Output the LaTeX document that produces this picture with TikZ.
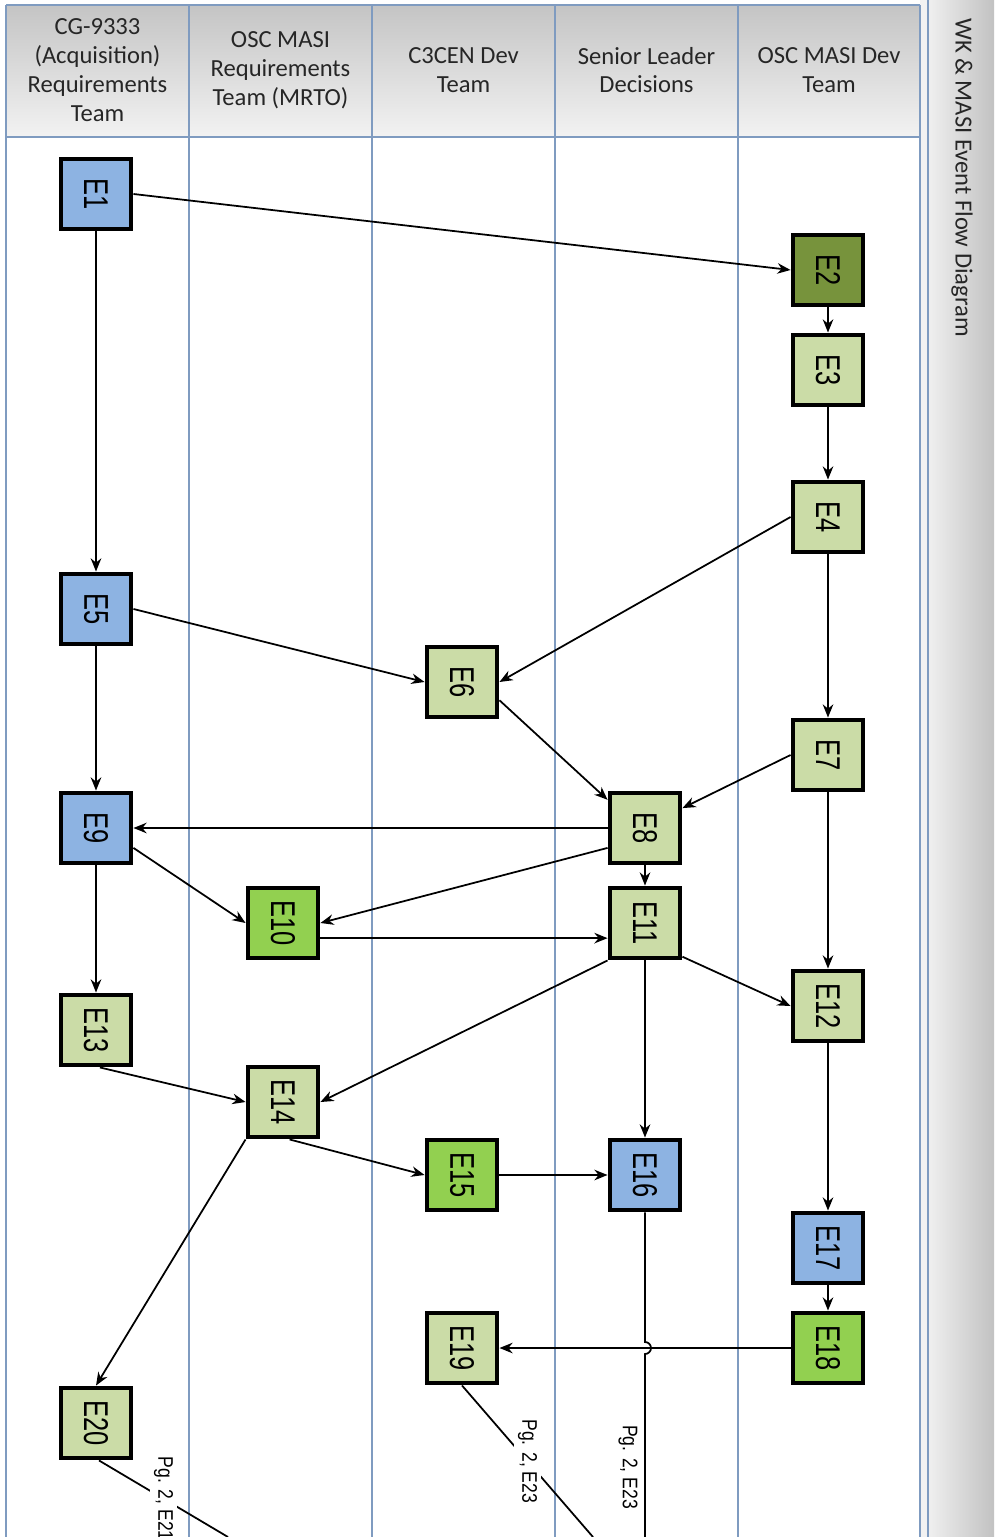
\documentclass[tikz,border=0pt]{standalone}
\usepackage{fontspec}
\setmainfont{Liberation Sans}
\newfontfamily\hdrfont{Carlito}
\usetikzlibrary{arrows.meta}
\usetikzlibrary{shadows}
\definecolor{laneBlue}{RGB}{127,155,192}
\definecolor{evBlue}{RGB}{141,179,226}
\definecolor{evPale}{RGB}{203,220,167}
\definecolor{evDark}{RGB}{119,147,60}
\definecolor{evLime}{RGB}{146,208,80}
\tikzset{evBox/.style={draw, line width=2.8pt, minimum width=1.4cm, minimum height=1.4cm, inner sep=0pt, fill=evPale, font=\fontsize{14.5}{16}\selectfont, drop shadow={shadow xshift=-1.4pt, shadow yshift=-1.4pt, opacity=0.45}}}
\tikzset{evBoxBlue/.style={evBox, fill=evBlue}}
\tikzset{evBoxLime/.style={evBox, fill=evLime}}
\tikzset{evBoxDark/.style={evBox, fill=evDark}}
\tikzset{flow/.style={-{Stealth[length=7.5pt, width=6pt]}, line width=1pt}}
\tikzset{lane/.style={draw=laneBlue, line width=1.1pt}}
\tikzset{hdr/.style={align=center, text=black!85, font=\hdrfont\fontsize{14}{16.4}\selectfont}}
\tikzset{pgRef/.style={inner sep=2pt, rotate=-90, font=\fontsize{10}{12}\selectfont}}
\newcommand{\evName}[1]{\rotatebox{-90}{\scalebox{1}[1.35]{#1}}}

\begin{document}
\begin{tikzpicture}[x=0.02cm, y=-0.02cm]

\useasboundingbox (0,0) rectangle (994,1537);
\fill[white] (0,0) rectangle (994,1537);

% lanes
\shade[top color=black!23, bottom color=black!5] (6,5) rectangle (920,137);
\fill[black!5] (920,0) rectangle (928,1537);
\shade[left color=black!6, right color=black!24] (928,0) rectangle (994,1537);
\foreach \lx in {6,189,372,555,738,920}
  \draw[lane] (\lx,5) -- (\lx,1537);
\draw[lane] (6,5) -- (920,5);
\draw[lane] (6,137) -- (920,137);
\draw[lane] (928,0) -- (928,1537);

\node[hdr] (h1) at (97.5,70) {CG-9333\\(Acquisition)\\Requirements\\Team};
\node[hdr] (h2) at (280.5,70) {OSC MASI\\Requirements\\Team (MRTO)};
\node[hdr] (h3) at (463.5,70) {C3CEN Dev\\Team};
\node[hdr] (h4) at (646.5,70) {Senior Leader\\Decisions};
\node[hdr] (h5) at (829,70) {OSC MASI Dev\\Team};

\node[hdr, rotate=-90, anchor=west] (title) at (962,12) {WK \& MASI Event Flow Diagram};

% events
\node[evBoxBlue] (e1) at (96,194) {\evName{E1}};
\node[evBoxDark] (e2) at (828,270) {\evName{E2}};
\node[evBox] (e3) at (828,370) {\evName{E3}};
\node[evBox] (e4) at (828,517) {\evName{E4}};
\node[evBoxBlue] (e5) at (96,609) {\evName{E5}};
\node[evBox] (e6) at (462,682) {\evName{E6}};
\node[evBox] (e7) at (828,755) {\evName{E7}};
\node[evBox] (e8) at (645,828) {\evName{E8}};
\node[evBoxBlue] (e9) at (96,828) {\evName{E9}};
\node[evBoxLime] (e10) at (283,923) {\evName{E10}};
\node[evBox] (e11) at (645,923) {\evName{E11}};
\node[evBox] (e12) at (828,1006) {\evName{E12}};
\node[evBox] (e13) at (96,1030) {\evName{E13}};
\node[evBox] (e14) at (283,1102) {\evName{E14}};
\node[evBoxLime] (e15) at (462,1175) {\evName{E15}};
\node[evBoxBlue] (e16) at (645,1175) {\evName{E16}};
\node[evBoxBlue] (e17) at (828,1248) {\evName{E17}};
\node[evBoxLime] (e18) at (828,1348) {\evName{E18}};
\node[evBox] (e19) at (462,1348) {\evName{E19}};
\node[evBox] (e20) at (96,1423) {\evName{E20}};

\draw[flow] (e1.east) -- (e2.west);
\draw[flow] (e1.south) -- (e5.north);
\draw[flow] (e2.south) -- (e3.north);
\draw[flow] (e3.south) -- (e4.north);
\draw[flow] (e4.west) -- (e6.east);
\draw[flow] (e4.south) -- (e7.north);
\draw[flow] (e5.east) -- (e6.west);
\draw[flow] (e5.south) -- (e9.north);
\draw[flow] (e6.-26) -- (e8.143);
\draw[flow] (e7.west) -- (e8.28);
\draw[flow] (e8.west) -- (e9.east);
\draw[flow] (e8.208) -- (e10.east);
\draw[flow] (e8.south) -- (e11.north);
\draw[flow] (e9.-28) -- (e10.west);
\draw[flow] (e9.south) -- (e13.north);
\draw[flow] (e10.-22) -- (e11.202);
\draw[flow] (e11.-42) -- (e12.west);
\draw[flow] (e11.south west) -- (e14.east);
\draw[flow] (e11.south) -- (e16.north);
\draw[flow] (e7.south) -- (e12.north);
\draw[flow] (e12.south) -- (e17.north);
\draw[flow] (e13.-84) -- (e14.west);
\draw[flow] (e14.-80) -- (e15.west);
\draw[flow] (e14.south west) -- (e20.north);
\draw[flow] (e15.east) -- (e16.west);
\draw[flow] (e17.south) -- (e18.north);
\draw[flow] (e18.west) -- (e19.east);

% off page
\coordinate (j16) at (645,1342);
\coordinate (p16) at (645,1537);
\coordinate (p19) at (593,1537);
\coordinate (p20) at (228,1537);
\draw[line width=1pt] (e16.south) -- (j16) arc[start angle=90, end angle=-90, radius=0.12cm] -- (p16);
\node[pgRef] (r16) at (628,1467) {\scalebox{1}[1.2]{Pg. 2, E23}};
\draw[line width=1pt] (e19.south) -- (p19) node[pgRef, midway, fill=white] (r19) {\scalebox{1}[1.2]{Pg. 2, E23}};
\draw[line width=1pt] ([xshift=0.06cm]e20.south) -- (p20) node[pgRef, midway, fill=white] (r20) {\scalebox{1}[1.2]{Pg. 2, E21}};

\end{tikzpicture}
\end{document}
